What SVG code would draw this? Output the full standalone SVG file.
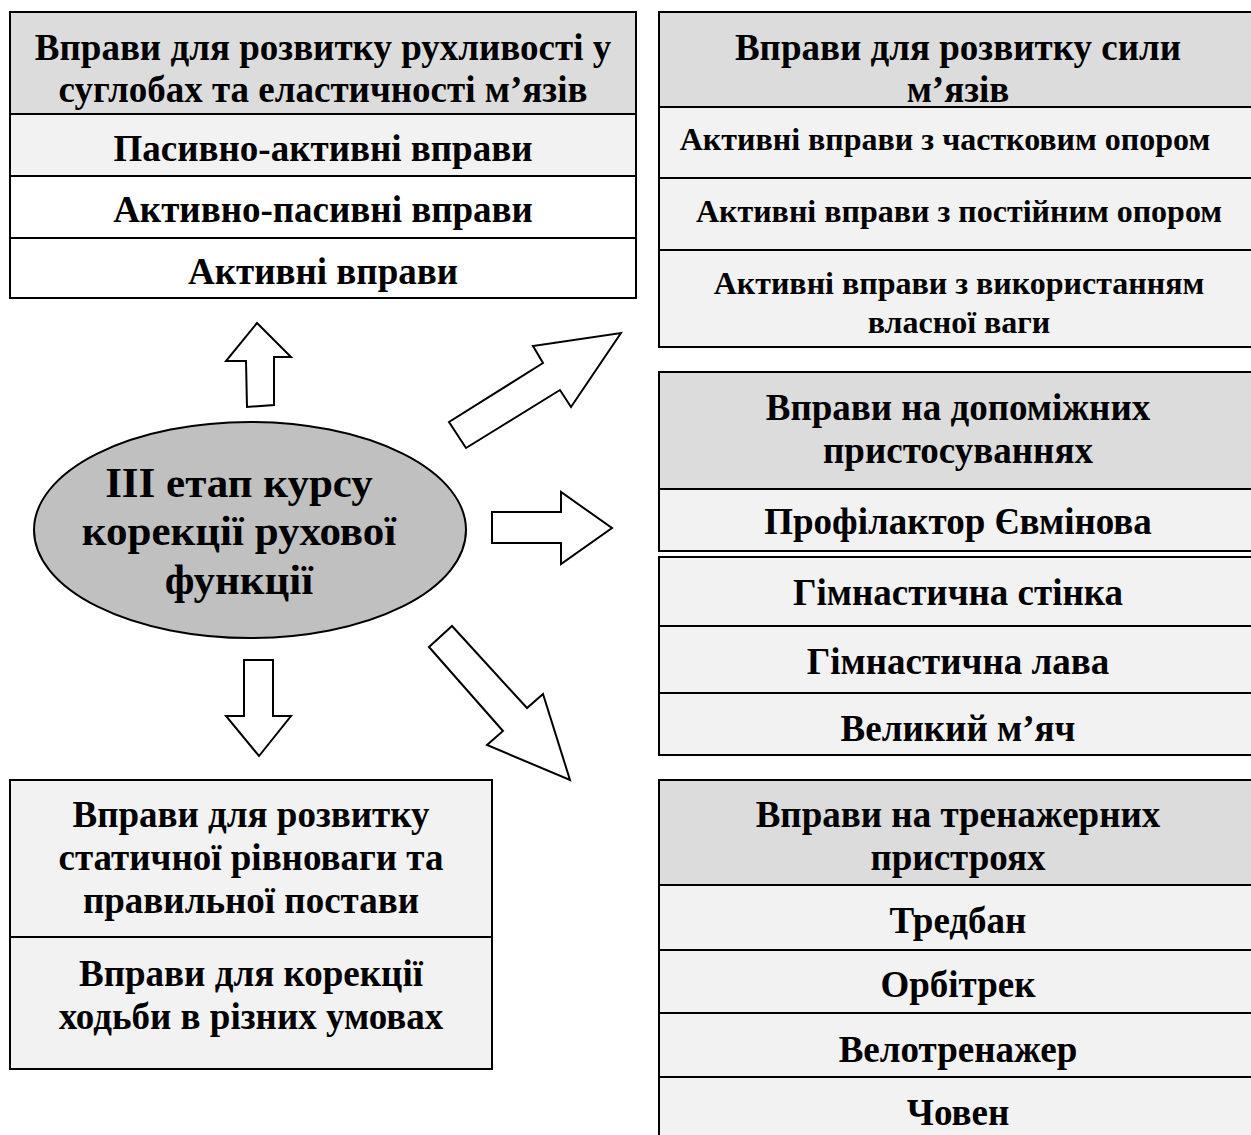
<svg xmlns="http://www.w3.org/2000/svg" width="1251" height="1135" viewBox="0 0 1251 1135">
<style>
text{font-family:"Liberation Serif","Times New Roman",serif;font-weight:bold;fill:#000;text-anchor:middle}
.t{font-size:37px}
.s{font-size:32px}
.e{font-size:43px}
.hd{fill:#dcdcdc;stroke:#000;stroke-width:2}
.lt{fill:#f2f2f2;stroke:#000;stroke-width:2}
.wh{fill:#fff;stroke:#000;stroke-width:2}
.ar{fill:#fff;stroke:#000;stroke-width:2;stroke-linejoin:miter}
</style>
<rect width="1251" height="1135" fill="#fff"/>
<g id="connectors">
<polygon class="ar" points="257,323 291,357 274,357 274,405 247,407 246,361 226,361"/>
<polygon class="ar" points="244,660 273,660 273,716 291,716 259,756 226,716 244,716"/>
<polygon class="ar" points="492,512 561,512 561,492 612,528 561,564 561,543 492,543"/>
<polygon class="ar" points="621,333 571,407 560,390 466,448 449,422 543,363 533,346"/>
<polygon class="ar" points="429,647 452,626 527,708 543,694 570,780 487,745 503,731"/>
</g>
<g id="node-center">
<ellipse cx="250" cy="530" rx="216" ry="108" fill="#c0c0c0" stroke="#000" stroke-width="2"/>
<text class="e" x="239" y="497">ІІІ етап курсу</text>
<text class="e" x="239" y="545">корекції рухової</text>
<text class="e" x="239" y="594">функції</text>
</g>
<g id="node-mobility">
<rect class="hd" x="10" y="12" width="626" height="102"/>
<rect class="lt" x="10" y="114" width="626" height="62"/>
<rect class="wh" x="10" y="176" width="626" height="62"/>
<rect class="wh" x="10" y="238" width="626" height="60"/>
<text class="t" x="323" y="60">Вправи для розвитку рухливості у</text>
<text class="t" x="323" y="102">суглобах та еластичності м’язів</text>
<text class="t" x="323" y="161">Пасивно-активні вправи</text>
<text class="t" x="323" y="222">Активно-пасивні вправи</text>
<text class="t" x="323" y="284">Активні вправи</text>
</g>
<g id="node-strength">
<rect class="hd" x="659" y="12" width="595" height="95"/>
<rect class="lt" x="659" y="107" width="595" height="71"/>
<rect class="lt" x="659" y="178" width="595" height="72"/>
<rect class="lt" x="659" y="250" width="595" height="97"/>
<text class="t" x="958" y="60">Вправи для розвитку сили</text>
<text class="t" x="958" y="102">м’язів</text>
<text class="s" x="945" y="150">Активні вправи з частковим опором</text>
<text class="s" x="959" y="222">Активні вправи з постійним опором</text>
<text class="s" x="959" y="294">Активні вправи з використанням</text>
<text class="s" x="959" y="333">власної ваги</text>
</g>
<g id="node-aids">
<rect class="hd" x="659" y="372" width="595" height="117"/>
<rect class="lt" x="659" y="489" width="595" height="62"/>
<text class="t" x="958" y="420">Вправи на допоміжних</text>
<text class="t" x="958" y="463">пристосуваннях</text>
<text class="t" x="958" y="534">Профілактор Євмінова</text>
</g>
<g id="node-aids-list">
<rect class="lt" x="659" y="557" width="595" height="69"/>
<rect class="lt" x="659" y="626" width="595" height="67"/>
<rect class="lt" x="659" y="693" width="595" height="62"/>
<text class="t" x="958" y="605">Гімнастична стінка</text>
<text class="t" x="958" y="674">Гімнастична лава</text>
<text class="t" x="958" y="741">Великий м’яч</text>
</g>
<g id="node-trainers">
<rect class="hd" x="659" y="780" width="595" height="105"/>
<rect class="lt" x="659" y="885" width="595" height="65"/>
<rect class="lt" x="659" y="950" width="595" height="63"/>
<rect class="lt" x="659" y="1013" width="595" height="64"/>
<rect class="lt" x="659" y="1077" width="595" height="70"/>
<text class="t" x="958" y="827">Вправи на тренажерних</text>
<text class="t" x="958" y="870">пристроях</text>
<text class="t" x="958" y="933">Тредбан</text>
<text class="t" x="958" y="997">Орбітрек</text>
<text class="t" x="958" y="1062">Велотренажер</text>
<text class="t" x="958" y="1125">Човен</text>
</g>
<g id="node-balance">
<rect class="lt" x="10" y="780" width="482" height="157"/>
<rect class="lt" x="10" y="937" width="482" height="132"/>
<text class="t" x="251" y="827">Вправи для розвитку</text>
<text class="t" x="251" y="870">статичної рівноваги та</text>
<text class="t" x="251" y="913">правильної постави</text>
<text class="t" x="251" y="986">Вправи для корекції</text>
<text class="t" x="251" y="1029">ходьби в різних умовах</text>
</g>
</svg>
